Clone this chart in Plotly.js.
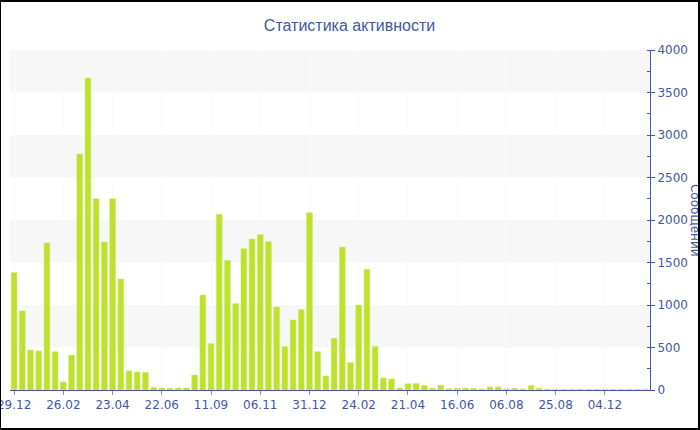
<!DOCTYPE html>
<html>
<head>
<meta charset="utf-8">
<script src="https://cdn.plot.ly/plotly-3.0.1.min.js"></script>
<style>
html, body { margin: 0; padding: 0; background: #fff; }
#chart { width: 697px; height: 426px; border-style: solid; border-color: #000; border-width: 2px 2px 2px 1px; }
</style>
</head>
<body>
<div id="chart"></div>
<script>
// Weekly message counts (bar index order)
const barIndex = [];
const messages = [
  1380, 930, 470, 460, 1730, 450, 95, 410, 2775, 3670,
  2250, 1740, 2250, 1305, 225, 212, 208, 31, 24, 20,
  24, 24, 176, 1118, 545, 2067, 1525, 1016, 1663, 1776,
  1827, 1745, 976, 510, 824, 945, 2086, 451, 165, 608,
  1682, 322, 1000, 1420, 510, 141, 129, 24, 73, 76,
  51, 22, 57, 14, 20, 22, 20, 12, 35, 35,
  12, 20, 12, 53, 20, 10, 8, 8, 8, 8,
  8, 8, 8, 8, 8, 8, 8, 8
];
for (let i = 0; i < messages.length; i++) barIndex.push(i);

const tickPositions = [0, 6, 12, 18, 24, 30, 36, 42, 48, 54, 60, 66, 72];
const tickLabels = ["29.12", "26.02", "23.04", "22.06", "11.09", "06.11", "31.12",
                    "24.02", "21.04", "16.06", "06.08", "25.08", "04.12"];

const titleText = "Статистика активности";
const yTitleText = "Сообщений";

const blue = "#4357a2";
const bands = [[500, 1000], [1500, 2000], [2500, 3000], [3500, 4000]];

const trace = {
  type: "bar",
  x: barIndex,
  y: messages,
  marker: { color: "rgb(189,225,46)", line: { width: 0.6, color: "rgb(205,235,90)" } },
  hoverinfo: "y"
};

const shapes = bands.map(b => ({
  type: "rect", xref: "paper", yref: "y", x0: 0, x1: 1, y0: b[0], y1: b[1],
  fillcolor: "#f7f7f7", line: { width: 0 }, layer: "below"
}));

const layout = {
  width: 697, height: 426,
  margin: { l: 9, r: 48, t: 48, b: 38, pad: 0 },
  paper_bgcolor: "#fff",
  plot_bgcolor: "#fff",
  showlegend: false,
  bargap: 0.3,
  font: { family: "DejaVu Sans, sans-serif", size: 12, color: blue },
  title: {
    text: titleText,
    font: { family: "Liberation Sans, Arial, sans-serif", size: 16, color: blue },
    x: 0.5, xref: "container", xanchor: "center",
    y: 0.945, yref: "container", yanchor: "middle"
  },
  xaxis: {
    range: [-0.5, messages.length - 0.5],
    tickmode: "array",
    tickvals: tickPositions,
    ticktext: tickLabels,
    ticklabeloverflow: "allow",
    showline: true, linecolor: blue, linewidth: 1,
    ticks: "outside", ticklen: 4, tickcolor: "#8a8fa8",
    showgrid: true, gridcolor: "#fafafa",
    zeroline: false,
    tickfont: { family: "DejaVu Sans, sans-serif", size: 12, color: blue },
    fixedrange: true
  },
  yaxis: {
    side: "right",
    range: [0, 4000],
    dtick: 500,
    tick0: 0,
    showline: true, linecolor: blue, linewidth: 1,
    ticks: "outside", ticklen: 4, tickcolor: blue,
    minor: { dtick: 250, ticks: "inside", ticklen: 3, tickcolor: blue },
    showgrid: false,
    zeroline: false,
    tickfont: { family: "DejaVu Sans, sans-serif", size: 12, color: blue },
    fixedrange: true
  },
  shapes: shapes,
  annotations: [{
    text: yTitleText,
    xref: "paper", yref: "paper",
    x: (694 - 10) / 639, y: 0.5,
    xanchor: "center", yanchor: "middle",
    textangle: 90, showarrow: false,
    font: { family: "DejaVu Sans, sans-serif", size: 12, color: blue }
  }]
};

Plotly.newPlot("chart", [trace], layout, { displayModeBar: false, staticPlot: true });
</script>
</body>
</html>
